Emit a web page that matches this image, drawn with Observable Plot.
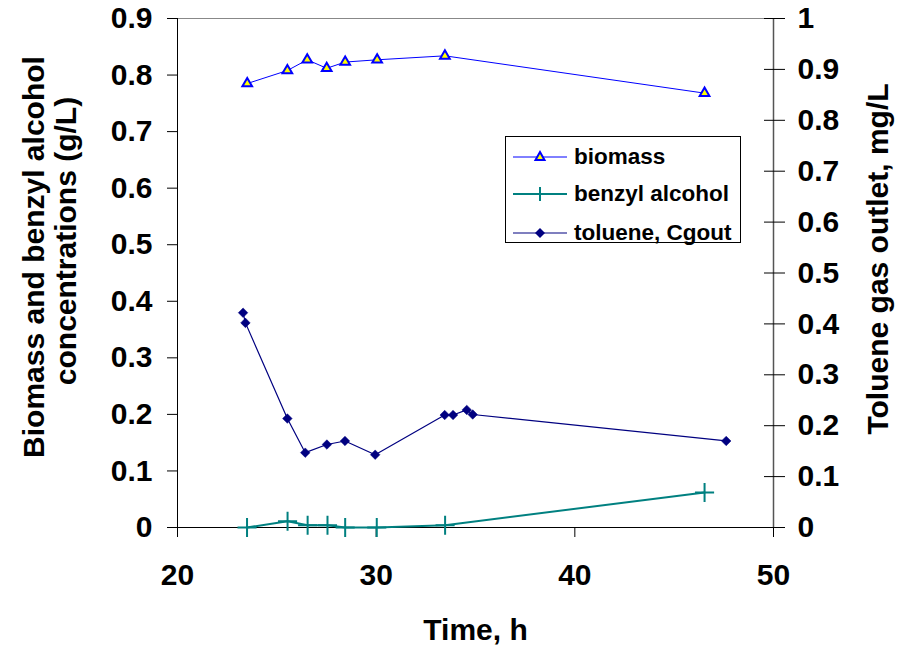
<!DOCTYPE html>
<html>
<head>
<meta charset="utf-8">
<script src="https://cdn.jsdelivr.net/npm/d3@7"></script>
<script src="https://cdn.jsdelivr.net/npm/@observablehq/plot@0.6"></script>
<style>
  html, body { margin: 0; padding: 0; background: #fff; }
  #wrap { position: relative; width: 900px; height: 653px; font-family: "Liberation Sans", Arial, sans-serif; }
  #legend { position: absolute; left: 505px; top: 136px; width: 236px; height: 107px; border: 1px solid #000; background: #fff; box-sizing: border-box; }
  #legend .row { position: absolute; left: 0; height: 30px; width: 235px; }
  #legend svg { position: absolute; left: 7px; top: 0; }
  #legend span { position: absolute; left: 68px; top: 2px; font-weight: bold; font-size: 22.5px; color: #000; white-space: nowrap; }
</style>
</head>
<body>
<div id="wrap"></div>
<script>
// ---- data ----
const biomassTime = [23.51, 25.53, 26.53, 27.51, 28.44, 30.05, 33.46, 46.53];
const biomassValue = [0.785, 0.808, 0.827, 0.812, 0.823, 0.827, 0.834, 0.768];

const benzylTime = [23.50, 25.54, 26.55, 27.55, 28.44, 30.03, 33.47, 46.53];
const benzylValue = [0.000, 0.011, 0.004, 0.004, 0.000, 0.000, 0.004, 0.062];

const tolueneTime = [23.30, 23.42, 25.53, 26.43, 27.52, 28.43, 29.95, 33.45, 33.87, 34.56, 34.86, 47.62];
const tolueneValue = [0.422, 0.402, 0.214, 0.147, 0.163, 0.170, 0.143, 0.221, 0.221, 0.231, 0.222, 0.170];

const xTicks = [20, 30, 40, 50];
const leftTicks = [0, 0.1, 0.2, 0.3, 0.4, 0.5, 0.6, 0.7, 0.8, 0.9];
const leftTickLabels = ["0", "0.1", "0.2", "0.3", "0.4", "0.5", "0.6", "0.7", "0.8", "0.9"];
const rightTicks = [0, 0.1, 0.2, 0.3, 0.4, 0.5, 0.6, 0.7, 0.8, 0.9, 1];
const rightTickLabels = ["0", "0.1", "0.2", "0.3", "0.4", "0.5", "0.6", "0.7", "0.8", "0.9", "1"];

const seriesNames = ["biomass", "benzyl alcohol", "toluene, Cgout"];
const xLabel = "Time, h";
const yLeftLines = ["Biomass and benzyl alcohol", "concentrations (g/L)"];
const yRightLabel = "Toluene gas outlet, mg/L";

// right axis (0..1) mapped onto left scale (0..0.9)
const rightMax = 1, leftMax = 0.9;
const toLeft = v => v * leftMax / rightMax;

const biomass = biomassTime.map((t, i) => ({t, v: biomassValue[i]}));
const benzyl = benzylTime.map((t, i) => ({t, v: benzylValue[i]}));
const toluene = tolueneTime.map((t, i) => ({t, v: toLeft(tolueneValue[i])}));

const cBio = "#0000FF", cBenz = "#008080", cTol = "#000080";
const fontFam = "Liberation Sans, Arial, sans-serif";
const fs = 30;

const plot = Plot.plot({
  width: 900,
  height: 653,
  marginLeft: 177,
  marginRight: 127,
  marginTop: 18,
  marginBottom: 126,
  x: {domain: [20, 50]},
  y: {domain: [0, 0.9]},
  style: {fontFamily: fontFam, fontWeight: "bold", fontSize: fs + "px", color: "#000", background: "#fff"},
  marks: [
    // frame
    Plot.ruleY([0.9], {stroke: "#888", strokeWidth: 1}),
    Plot.ruleX([50], {stroke: "#555", strokeWidth: 1.5}),
    // axes
    Plot.axisX(xTicks, {anchor: "bottom", tickSize: 10, tickPadding: 26, label: null, tickFormat: d => String(d), fontSize: fs, fontWeight: "bold"}),
    Plot.axisY(leftTicks, {anchor: "left", tickSize: 10, tickPadding: 15, label: null, tickFormat: (d, i) => leftTickLabels[i], fontSize: fs, fontWeight: "bold"}),
    Plot.axisY(rightTicks.map(toLeft), {anchor: "right", tickSize: 11, tickPadding: 13, label: null, tickFormat: (d, i) => rightTickLabels[i], fontSize: fs, fontWeight: "bold"}),
    Plot.axisY(rightTicks.map(toLeft), {anchor: "right", tickSize: -10, text: null, label: null}),
    Plot.ruleX([20], {stroke: "#000", strokeWidth: 1}),
    Plot.ruleY([0], {stroke: "#000", strokeWidth: 1.2, x1: 19.5, x2: 50}),
    // series
    Plot.line(biomass, {x: "t", y: "v", stroke: cBio, strokeWidth: 1}),
    Plot.line(benzyl, {x: "t", y: "v", stroke: cBenz, strokeWidth: 2}),
    Plot.line(toluene, {x: "t", y: "v", stroke: cTol, strokeWidth: 1.2}),
    Plot.dot(biomass, {x: "t", y: "v", symbol: "triangle", r: 3.6, fill: "#FFFF00", stroke: cBio, strokeWidth: 2}),
    Plot.dot(benzyl, {x: "t", y: "v", symbol: "plus", r: 6.2, stroke: cBenz, strokeWidth: 2}),
    Plot.dot(toluene, {x: "t", y: "v", symbol: "diamond2", r: 4.3, fill: cTol, stroke: cTol, strokeWidth: 0.5}),
    // axis titles
    Plot.text([xLabel], {frameAnchor: "bottom", dy: 112, text: d => d, fontSize: fs, fontWeight: "bold", lineAnchor: "bottom", textAnchor: "middle"}),
    Plot.text([yLeftLines[0]], {frameAnchor: "left", dx: -143, dy: -16, rotate: -90, text: d => d, fontSize: fs, fontWeight: "bold", textAnchor: "middle"}),
    Plot.text([yLeftLines[1]], {frameAnchor: "left", dx: -111, dy: -32, rotate: -90, text: d => d, fontSize: fs, fontWeight: "bold", textAnchor: "middle"}),
    Plot.text([yRightLabel], {frameAnchor: "right", dx: 105, dy: -14, rotate: -90, text: d => d, fontSize: fs, fontWeight: "bold", textAnchor: "middle"})
  ]
});

const wrap = document.getElementById("wrap");
wrap.appendChild(plot);

// legend
const legend = document.createElement("div");
legend.id = "legend";
const rowsTop = [5, 42, 81];
const symbols = [
  `<line x1="0" y1="15" x2="54" y2="15" stroke="${cBio}" stroke-width="1"/><path d="M27,10 L31.5,18 L22.5,18 Z" fill="#FFFF00" stroke="${cBio}" stroke-width="2"/>`,
  `<line x1="0" y1="15" x2="54" y2="15" stroke="${cBenz}" stroke-width="2"/><path d="M27,8 V22 M20,15 H34" stroke="${cBenz}" stroke-width="2"/>`,
  `<line x1="0" y1="15" x2="54" y2="15" stroke="${cTol}" stroke-width="1.2"/><path d="M27,10 L32,15 L27,20 L22,15 Z" fill="${cTol}"/>`
];
seriesNames.forEach((name, i) => {
  const row = document.createElement("div");
  row.className = "row";
  row.style.top = rowsTop[i] + "px";
  row.innerHTML = `<svg width="56" height="30">${symbols[i]}</svg><span>${name}</span>`;
  legend.appendChild(row);
});
wrap.appendChild(legend);
</script>
</body>
</html>
